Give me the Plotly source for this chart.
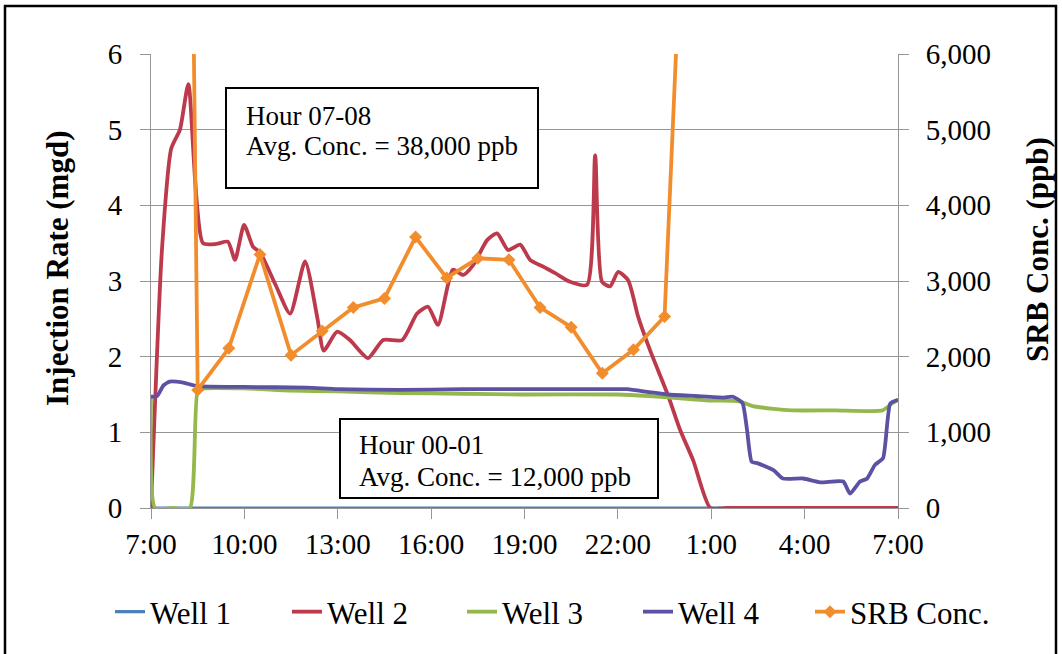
import plotly.graph_objects as go

# ---------------- data ----------------
tick_hours = [0, 3, 6, 9, 12, 15, 18, 21, 24]
tick_labels = ["7:00", "10:00", "13:00", "16:00", "19:00", "22:00", "1:00", "4:00", "7:00"]

well1_t = [0, 6, 12, 18, 24]
well1_q = [0, 0, 0, 0, 0]

well2_t = [0.0, 0.35, 0.65, 0.93, 1.2, 1.67, 2.1, 2.47, 2.7, 2.99, 3.28, 3.5, 4.0, 4.47,
           4.95, 5.35, 5.55, 5.98, 6.39, 6.97, 7.46, 8.07, 8.55, 8.9, 9.22, 9.7, 10.03,
           10.35, 10.8, 11.12, 11.47, 11.86, 12.18, 12.6, 13.0, 13.46, 14.01, 14.27,
           14.49, 14.75, 15.01, 15.33, 15.65, 16.03, 16.61, 17.0, 17.42, 17.97, 18.5,
           21.0, 24.0]
well2_q = [0.0, 3.4, 4.75, 5.0, 5.6, 3.5, 3.49, 3.52, 3.28, 3.74, 3.45, 3.38, 2.95, 2.57,
           3.26, 2.5, 2.08, 2.33, 2.22, 1.98, 2.22, 2.22, 2.57, 2.66, 2.42, 3.15, 3.08,
           3.21, 3.54, 3.63, 3.41, 3.48, 3.28, 3.19, 3.1, 2.99, 2.95, 4.66,
           2.99, 2.93, 3.12, 3.01, 2.53, 2.09, 1.49, 1.03, 0.63, 0.0, 0.0,
           0.0, 0.0]

well3_t = [0.0, 0.13, 0.7, 1.25, 1.5, 1.7, 3.0, 4.5, 6.0, 8.0, 10.0, 12.0, 15.0, 16.0,
           17.0, 18.0, 18.9, 19.3, 20.0, 20.6, 22.0, 23.5, 23.8, 24.0]
well3_q = [1.45, 0.0, 0.0, 0.0, 1.55, 1.58, 1.58, 1.55, 1.54, 1.52, 1.51, 1.5, 1.5, 1.48,
           1.45, 1.42, 1.41, 1.35, 1.31, 1.29, 1.29, 1.29, 1.38, 1.43]

well4_t = [0.0, 0.2, 0.4, 0.6, 1.0, 1.5, 3.0, 5.0, 6.0, 8.0, 10.0, 12.0, 14.0, 15.3,
           16.0, 16.6, 17.5, 18.4, 18.7, 19.0, 19.15, 19.3, 19.5, 20.0, 20.3, 20.95,
           21.5, 22.24, 22.46, 22.78, 23.01, 23.26, 23.52, 23.75, 24.0]
well4_q = [1.47, 1.48, 1.62, 1.67, 1.66, 1.61, 1.6, 1.59, 1.57, 1.56, 1.57, 1.57, 1.57, 1.57,
           1.53, 1.5, 1.48, 1.46, 1.47, 1.39, 1.03, 0.61, 0.59, 0.5, 0.39, 0.39,
           0.34, 0.35, 0.19, 0.35, 0.39, 0.57, 0.66, 1.38, 1.43]

srb_t = [0.5, 1.5, 2.5, 3.5, 4.5, 5.5, 6.5, 7.5, 8.5, 9.5, 10.5, 11.5, 12.5, 13.5,
         14.5, 15.5, 16.5, 17.5]
srb_c = [38000, 1560, 2110, 3350, 2020, 2340, 2650, 2770, 3580, 3040, 3300, 3280, 2650,
         2390, 1780, 2090, 2530, 12000]

# ---------------- layout geometry ----------------
W, H = 1062, 654
L, R, T, B = 151, 164, 54, 146
PW, PH = W - L - R, H - T - B


def px(x):
    return (x - L) / PW


def py(y):
    return (H - B - y) / PH


SERIF = "Liberation Serif, Times New Roman, serif"
GRID = "#959595"
LW = 3.8

fig = go.Figure()
fig.add_trace(go.Scatter(x=well1_t, y=well1_q, name="Well 1", mode="lines", legend="legend",
                         line=dict(color="#4a7ebb", width=3.2)))
fig.add_trace(go.Scatter(x=well2_t, y=well2_q, name="Well 2", mode="lines", legend="legend2",
                         line=dict(color="#bc3a4c", width=LW, shape="spline", smoothing=0.6)))
fig.add_trace(go.Scatter(x=well3_t, y=well3_q, name="Well 3", mode="lines", legend="legend3",
                         line=dict(color="#94b84c", width=LW, shape="spline", smoothing=0.5)))
fig.add_trace(go.Scatter(x=well4_t, y=well4_q, name="Well 4", mode="lines", legend="legend4",
                         line=dict(color="#5c52a4", width=LW, shape="spline", smoothing=0.5)))
fig.add_trace(go.Scatter(x=srb_t, y=srb_c, name="SRB Conc.", mode="lines+markers", yaxis="y2",
                         legend="legend5",
                         line=dict(color="#f28d2e", width=LW),
                         marker=dict(symbol="diamond", size=10, color="#f28d2e")))

leg_font = dict(size=31, family=SERIF, color="black")


def leg(xpix):
    return dict(orientation="h", x=px(xpix), xanchor="left", y=py(612), yanchor="middle",
                font=leg_font, bgcolor="rgba(0,0,0,0)", itemwidth=30)


fig.update_layout(
    width=W, height=H,
    margin=dict(l=L, r=R, t=T, b=B, autoexpand=False),
    paper_bgcolor="white", plot_bgcolor="white",
    font=dict(family=SERIF, color="black", size=29),
    showlegend=True,
    legend=leg(110), legend2=leg(287), legend3=leg(462), legend4=leg(638), legend5=leg(810),
    xaxis=dict(range=[0, 24], tickmode="array", tickvals=tick_hours, ticktext=tick_labels,
               showgrid=False, zeroline=False, showline=True, linecolor=GRID, linewidth=1,
               ticks="outside", ticklen=10, tickcolor=GRID, tickfont=dict(size=29)),
    yaxis=dict(range=[0, 6], dtick=1, showgrid=True, gridcolor=GRID, gridwidth=1,
               zeroline=False, showline=True, linecolor=GRID, ticks="outside", ticklen=10,
               tickcolor=GRID, tickfont=dict(size=29), ticklabelstandoff=12),
    yaxis2=dict(range=[0, 6000], dtick=1000, overlaying="y", side="right", showgrid=False,
                zeroline=False, showline=True, linecolor=GRID, ticks="outside", ticklen=10,
                tickcolor=GRID, tickformat=",d", tickfont=dict(size=29), ticklabelstandoff=11),
)

shapes = [
    # outer border (left, top, right)
    dict(type="rect", xref="paper", yref="paper", x0=px(5), x1=px(1056), y0=py(665), y1=py(6),
         line=dict(color="black", width=2.5), fillcolor="rgba(0,0,0,0)", layer="above"),
    # annotation boxes
    dict(type="rect", xref="paper", yref="paper", x0=px(226), x1=px(538), y0=py(188), y1=py(88),
         line=dict(color="black", width=2), fillcolor="white", layer="above"),
    dict(type="rect", xref="paper", yref="paper", x0=px(340), x1=px(658), y0=py(498), y1=py(419),
         line=dict(color="black", width=2), fillcolor="white", layer="above"),
]
fig.update_layout(shapes=shapes)

ann_font = dict(family=SERIF, size=27, color="black")
annotations = [
    dict(text="Hour 07-08", x=px(244), y=py(116), xanchor="left", yanchor="middle"),
    dict(text="Avg. Conc. = 38,000 ppb", x=px(244), y=py(146), xanchor="left", yanchor="middle"),
    dict(text="Hour 00-01", x=px(357), y=py(445), xanchor="left", yanchor="middle"),
    dict(text="Avg. Conc. = 12,000 ppb", x=px(357), y=py(477), xanchor="left", yanchor="middle"),
]
for a in annotations:
    a.update(xref="paper", yref="paper", showarrow=False, font=ann_font)

title_font = dict(family=SERIF, size=31, color="black")
annotations += [
    dict(text="<b>Injection Rate (mgd)</b>", x=px(57), y=py(268), textangle=-90,
         xanchor="center", yanchor="middle", xref="paper", yref="paper", showarrow=False,
         font=title_font),
    dict(text="<b>SRB Conc. (ppb)</b>", x=px(1037), y=py(250), textangle=-90,
         xanchor="center", yanchor="middle", xref="paper", yref="paper", showarrow=False,
         font=title_font),
]
fig.update_layout(annotations=annotations)

fig.write_html("out.html", config={"displayModeBar": False},
               post_script="document.body.style.margin='0px';")
